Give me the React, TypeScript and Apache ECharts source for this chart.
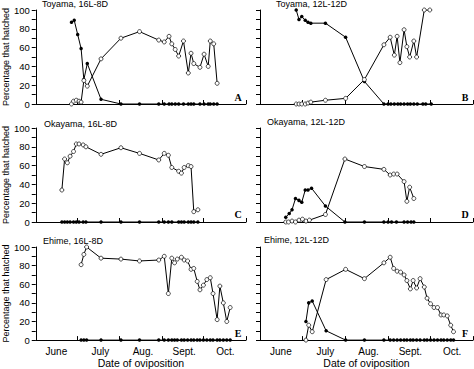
import React, { useEffect, useRef } from 'react';
import * as echarts from 'echarts';

// x values are days counted from June 1
const monthTickDays = [0, 30, 61, 92, 122, 153];
const monthLabelDays = [15, 47, 78, 108, 138];
const monthNames = ['June', 'July', 'Aug.', 'Sept.', 'Oct.'];

// A: Toyama, 16L-8D
const aFilledDays = [26, 28, 30.5, 33, 35, 37.5, 47.5, 62, 75.5, 89.5, 93.5, 97, 99, 101.5, 104, 107.5, 111, 113, 115, 119.5, 122.5, 125.5, 127, 129.5, 132];
const aFilled = [87, 89, 74, 59, 26, 43, 5, 0, 0, 0, 0, 0, 0, 0, 0, 0, 0, 0, 0, 0, 0, 0, 0, 0, 0];
const aOpenDays = [26, 27.5, 29.5, 31.5, 33, 35, 37.5, 47.5, 62, 75.5, 89.5, 93.5, 97, 99, 101.5, 104, 107.5, 111, 113, 115, 119.5, 122.5, 125.5, 127, 129.5, 132];
const aOpen = [0, 3, 4, 3, 2, 25, 19, 48, 70, 77, 68, 66, 72, 64, 58, 51, 67, 33, 54, 43, 39, 53, 40, 67, 64, 22];

// B: Toyama, 12L-12D
const bFilledDays = [26, 28, 30, 32.5, 34.5, 36.5, 47, 61.5, 75, 89, 92, 94, 96.5, 99, 101, 103.5, 106, 108, 110.5, 113, 117, 119, 123];
const bFilled = [100, 90, 93, 89, 87, 86, 86, 71, 24, 0, 0, 0, 0, 0, 0, 0, 0, 0, 0, 0, 0, 0, 0];
const bOpenDays = [26, 28, 30, 32.5, 34.5, 36.5, 47, 61.5, 75, 89, 93.5, 96.5, 98.5, 100.5, 103.5, 105.5, 107.5, 110.5, 112.5, 118, 122];
const bOpen = [0, 0, 0, 0, 1, 2, 4, 6, 26, 63, 71, 52, 72, 44, 79, 61, 50, 67, 50, 100, 100];

// C: Okayama, 16L-8D
const cFilledDays = [19, 21, 23, 25, 27.5, 29.5, 31.5, 34.5, 36.5, 47.5, 62, 75.5, 89.5, 93.5, 96.5, 99, 104, 106, 108, 111, 113, 115, 118];
const cFilled = [0, 0, 0, 0, 0, 0, 0, 0, 0, 0, 0, 0, 0, 0, 0, 0, 0, 0, 0, 0, 0, 0, 0];
const cOpenDays = [19, 21, 23, 25, 27.5, 29.5, 31.5, 34.5, 36.5, 47.5, 62, 75.5, 89.5, 93.5, 96.5, 99, 104, 106, 108, 111, 113, 115, 118];
const cOpen = [34, 67, 63, 70, 75, 83, 83, 82, 80, 72, 79, 73, 66, 73, 71, 58, 54, 52, 58, 60, 59, 11, 13];

// D: Okayama, 12L-12D
const dFilledDays = [18.5, 21, 23, 25.5, 28, 30, 32.5, 34.5, 37, 47, 61, 75, 89, 92, 94.5, 98, 103.5, 106, 108.5, 110.5];
const dFilled = [5, 9, 13, 25, 23, 21, 34, 34, 36, 17, 0, 0, 0, 0, 0, 0, 0, 0, 0, 0];
const dOpenDays = [18.5, 20.5, 23, 25.5, 28, 30.5, 33, 35.5, 47, 61, 75, 89, 93.5, 96, 98.5, 103.5, 105.5, 107.5, 110.5];
const dOpen = [0, 0, 1, 0, 2, 3, 1, 2, 8, 67, 59, 56, 50, 51, 51, 43, 22, 37, 25];

// E: Ehime, 16L-8D
const eFilledDays = [33, 35, 37, 47.5, 62, 75.5, 89.5, 93.5, 96.5, 99, 101, 103, 106, 108, 110.5, 113, 115, 117.5, 119.5, 122, 124.5, 127, 129, 132, 134, 136.5, 139, 141.5];
const eFilled = [0, 0, 0, 0, 0, 0, 0, 0, 0, 0, 0, 0, 0, 0, 0, 0, 0, 0, 0, 0, 0, 0, 0, 0, 0, 0, 0, 0];
const eOpenDays = [33, 35, 37, 47.5, 62, 75.5, 89.5, 93.5, 96.5, 99, 101, 103, 106, 108, 110.5, 113, 115, 117.5, 119.5, 122, 124.5, 127, 129, 132, 134, 136.5, 139, 141.5];
const eOpen = [81, 92, 100, 88, 87, 85, 86, 90, 50, 88, 83, 87, 89, 86, 85, 76, 77, 63, 54, 59, 65, 67, 50, 22, 58, 40, 20, 35];

// F: Ehime, 12L-12D
const fFilledDays = [33, 35, 37.5, 47.5, 61.5, 75, 89, 93.5, 96, 98.5, 101, 103.5, 105.5, 108, 110, 112.5, 115, 118, 120, 122.5, 125, 127.5, 130, 132, 134.5, 137, 139];
const fFilled = [20, 40, 42, 10, 0, 0, 0, 0, 0, 0, 0, 0, 0, 0, 0, 0, 0, 0, 0, 0, 0, 0, 0, 0, 0, 0, 0];
const fOpenDays = [33, 35, 37.5, 47.5, 61.5, 75, 89, 93.5, 96, 98.5, 101, 103.5, 105.5, 108, 110, 112.5, 115, 118, 120, 122.5, 125, 127.5, 130, 132, 134.5, 137, 139];
const fOpen = [0, 16, 9, 65, 76, 66, 83, 89, 77, 74, 73, 70, 64, 55, 64, 56, 66, 57, 45, 39, 35, 35, 27, 27, 26, 16, 9];

const panelTitles = ['Toyama, 16L-8D', 'Toyama, 12L-12D', 'Okayama, 16L-8D', 'Okayama, 12L-12D', 'Ehime, 16L-8D', 'Ehime, 12L-12D'];
const panelLetters = ['A', 'B', 'C', 'D', 'E', 'F'];

const panels = [
  { fd: aFilledDays, fv: aFilled, od: aOpenDays, ov: aOpen },
  { fd: bFilledDays, fv: bFilled, od: bOpenDays, ov: bOpen },
  { fd: cFilledDays, fv: cFilled, od: cOpenDays, ov: cOpen },
  { fd: dFilledDays, fv: dFilled, od: dOpenDays, ov: dOpen },
  { fd: eFilledDays, fv: eFilled, od: eOpenDays, ov: eOpen },
  { fd: fFilledDays, fv: fFilled, od: fOpenDays, ov: fOpen },
];

const FONT = '"Liberation Sans", Arial, sans-serif';

// layout
const colLeft = [33, 260];
const rowTop = [10, 128, 247];
const gridW = 213;
const gridH = 94;
const titlePos = [
  [42, 3.5], [276, 3.5],
  [44, 124], [267, 122],
  [43, 241], [264, 240],
];
const letterPos = [
  [238, 97], [465, 97],
  [238, 214], [465, 214],
  [238, 333.5], [465, 333.5],
];

export default function App() {
  const ref = useRef<HTMLDivElement>(null);
  useEffect(() => {
    const chart = echarts.init(ref.current!, null, { renderer: 'svg' });
    const grid: any[] = [];
    const xAxis: any[] = [];
    const yAxis: any[] = [];
    const series: any[] = [];
    const graphic: any[] = [];
    panels.forEach((p, i) => {
      const col = i % 2;
      const row = Math.floor(i / 2);
      const bottom = row === 2;
      grid.push({ left: colLeft[col], top: rowTop[row], width: gridW, height: gridH });
      xAxis.push({
        type: 'value', gridIndex: i, min: 0, max: 153,
        axisLine: { show: true, lineStyle: { color: '#000', width: 1 } },
        axisTick: { show: true, inside: true, length: 4, customValues: monthTickDays, lineStyle: { color: '#000' } },
        axisLabel: {
          show: bottom, customValues: monthLabelDays, margin: 6,
          color: '#000', fontSize: 10, fontFamily: FONT,
          formatter: (v: number) => { const k = monthLabelDays.indexOf(v); return k >= 0 ? monthNames[k] : ''; },
        },
        splitLine: { show: false },
        name: bottom ? 'Date of oviposition' : '',
        nameLocation: 'middle', nameGap: 16,
        nameTextStyle: { color: '#000', fontSize: 10.5, fontFamily: FONT },
      });
      yAxis.push({
        type: 'value', gridIndex: i, min: 0, max: 100, interval: 10,
        axisLine: { show: true, lineStyle: { color: '#000', width: 1 } },
        axisTick: { show: true, inside: false, length: 4, lineStyle: { color: '#000' } },
        axisLabel: {
          show: col === 0, margin: 6, color: '#000', fontSize: 9.5, fontFamily: FONT,
          formatter: (v: number) => (v % 20 === 0 ? String(v) : ''),
        },
        splitLine: { show: false },
        name: col === 0 ? 'Percentage that hatched' : '',
        nameLocation: 'middle', nameGap: 20,
        nameTextStyle: { color: '#000', fontSize: 9, fontFamily: FONT },
      });
      series.push({
        type: 'line', xAxisIndex: i, yAxisIndex: i,
        data: p.fd.map((d, k) => [d, p.fv[k]]),
        symbol: 'circle', symbolSize: 3.5,
        itemStyle: { color: '#000' },
        lineStyle: { color: '#000', width: 1 },
      });
      series.push({
        type: 'line', xAxisIndex: i, yAxisIndex: i,
        data: p.od.map((d, k) => [d, p.ov[k]]),
        symbol: 'circle', symbolSize: 4,
        itemStyle: { color: '#fff', borderColor: '#000', borderWidth: 0.7 },
        lineStyle: { color: '#000', width: 1 },
      });
      graphic.push({
        type: 'text', x: titlePos[i][0], y: titlePos[i][1],
        style: { text: panelTitles[i], fill: '#000', font: `9px ${FONT}`, textAlign: 'left', textVerticalAlign: 'middle' },
      });
      graphic.push({
        type: 'text', x: letterPos[i][0], y: letterPos[i][1],
        style: { text: panelLetters[i], fill: '#000', font: `bold 10px "Liberation Serif", "Times New Roman", serif`, textAlign: 'center', textVerticalAlign: 'middle' },
      });
    });
    chart.setOption({ animation: false, grid, xAxis, yAxis, series, graphic });
    return () => chart.dispose();
  }, []);
  return <div ref={ref} style={{ position: 'fixed', left: 0, top: 0, width: 474, height: 369, background: '#fff' }} />;
}
